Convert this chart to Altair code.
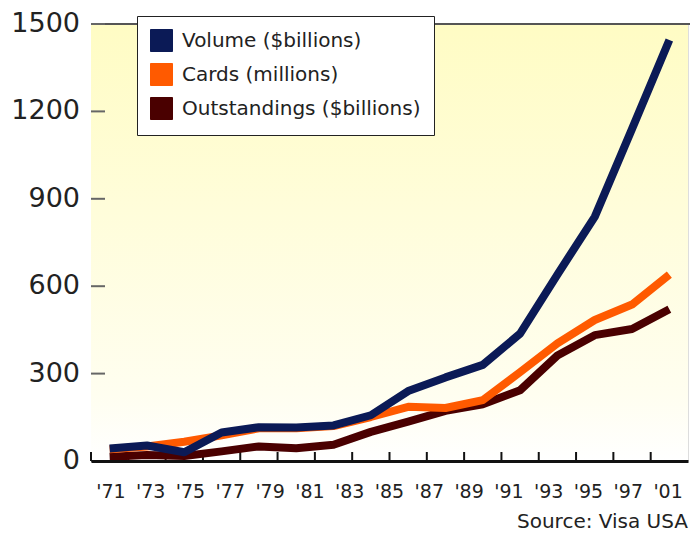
import altair as alt
import pandas as pd

# ---- data -------------------------------------------------------------
years = ["1971", "1973", "1975", "1977", "1979", "1981", "1983", "1985",
         "1987", "1989", "1991", "1993", "1995", "1997", "1999", "2001"]
volume = [43, 53, 30, 98, 116, 115, 122, 157, 240, 287, 330, 437, 640, 838, 1140, 1445]
cards = [40, 50, 66, 88, 112, 112, 120, 151, 186, 182, 209, 305, 404, 484, 537, 640]
outstandings = [15, 21, 17, 33, 50, 44, 56, 100, 135, 172, 195, 243, 362, 432, 453, 521]

series_names = ["Volume ($billions)", "Cards (millions)", "Outstandings ($billions)"]
series_colors = ["#0b1a56", "#ff5a00", "#4a0000"]

x_labels = ["'71", "'73", "'75", "'77", "'79", "'81", "'83", "'85", "'87",
            "'89", "'91", "'93", "'95", "'97", "'01"]
y_ticks = [0, 300, 600, 900, 1200, 1500]
source_text = ["Source: Visa USA"]

W, H = 597, 437
FONT = "DejaVu Sans"

# draw order: Outstandings (bottom), Cards, Volume (top)
rows = []
for name, vals in [(series_names[2], outstandings),
                   (series_names[1], cards),
                   (series_names[0], volume)]:
    for yr, v in zip(years, vals):
        rows.append({"year": yr, "value": v, "series": name})
df = pd.DataFrame(rows)

band = alt.Scale(type="band", paddingInner=0, paddingOuter=0)
yscale = alt.Scale(domain=[0, 1500], nice=False)
color_scale = alt.Scale(domain=series_names, range=series_colors)

background = alt.Chart(pd.DataFrame({"k": [0]})).mark_rect(
    color=alt.Gradient(
        gradient="linear",
        stops=[alt.GradientStop(color="#fffcc4", offset=0),
               alt.GradientStop(color="#fffef0", offset=0.85),
               alt.GradientStop(color="#ffffff", offset=1)],
        x1=0, x2=0, y1=0, y2=1,
    )
).encode(x=alt.value(0), x2=alt.value(W), y=alt.value(0), y2=alt.value(H))

top_border = alt.Chart(pd.DataFrame({"k": [0]})).mark_rule(
    color="#555", strokeWidth=2
).encode(x=alt.value(0), x2=alt.value(W + 2), y=alt.value(0))

ytick_df = pd.DataFrame({"v": y_ticks})
ytick_rules = alt.Chart(ytick_df).mark_rule(
    color="#666", strokeWidth=2
).encode(
    y=alt.Y("v:Q", scale=yscale, axis=None),
    x=alt.value(0), x2=alt.value(14),
)

ytick_labels = alt.Chart(ytick_df).mark_text(
    font=FONT, fontSize=27, color="#222", align="right", baseline="middle"
).encode(
    y=alt.Y("v:Q", scale=yscale, axis=None),
    x=alt.value(-11),
    text="v:Q",
)

xtick_rules = alt.Chart(pd.DataFrame({"year": years})).mark_rule(
    color="#111", strokeWidth=2
).encode(
    x=alt.X("year:O", sort=years, scale=band, bandPosition=0, axis=None),
    y=alt.value(H), y2=alt.value(H - 9),
)

lines = alt.Chart(df).mark_line(
    strokeWidth=8, strokeJoin="round", strokeCap="butt"
).encode(
    x=alt.X("year:O", sort=years, scale=band, bandPosition=0.5,
            axis=alt.Axis(orient="bottom", labels=False, ticks=False, grid=False,
                          title=None, domainColor="#111", domainWidth=3, zindex=1)),
    y=alt.Y("value:Q", scale=yscale,
            axis=alt.Axis(labels=False, ticks=False, grid=False, title=None,
                          domainColor="#111", domainWidth=2.5, zindex=1)),
    color=alt.Color("series:N", scale=color_scale, legend=None),
)

# invisible filled squares that only carry the legend (filled swatches)
legend_carrier = alt.Chart(df).mark_square(filled=True, opacity=0, size=1).encode(
    x=alt.X("year:O", sort=years, scale=band, bandPosition=0.5, axis=None),
    y=alt.Y("value:Q", scale=yscale, axis=None),
    color=alt.Color(
        "series:N",
        scale=color_scale,
        legend=alt.Legend(
            title=None, orient="none", legendX=46, legendY=-8,
            symbolType="square", symbolSize=484, symbolOpacity=1,
            symbolStrokeColor="#333", symbolStrokeWidth=1,
            labelFont=FONT, labelFontSize=20, labelColor="#222", labelLimit=0,
            labelOffset=9, fillColor="white", strokeColor="#222",
            padding=13, rowPadding=7,
        ),
    ),
)

xlabels = alt.Chart(pd.DataFrame({"label": x_labels})).mark_text(
    font=FONT, fontSize=19, color="#222", baseline="alphabetic"
).encode(
    x=alt.X("label:N", sort=x_labels, scale=band, bandPosition=0.5, axis=None),
    y=alt.value(H + 37),
    text="label:N",
)

source = alt.Chart(pd.DataFrame({"t": source_text})).mark_text(
    font=FONT, fontSize=20, color="#222", align="left", baseline="alphabetic"
).encode(x=alt.value(426), y=alt.value(504), text="t:N")

chart = alt.layer(
    background, top_border, ytick_rules, ytick_labels, xtick_rules,
    legend_carrier, lines, xlabels, source
).resolve_scale(x="independent").properties(
    width=W, height=H,
    autosize=alt.AutoSizeParams(type="none"),
    padding={"left": 91, "top": 24, "right": 2, "bottom": 72},
).configure_view(stroke=None).configure(font=FONT)

chart.save("out.html", embed_options={"renderer": "svg", "actions": False})
